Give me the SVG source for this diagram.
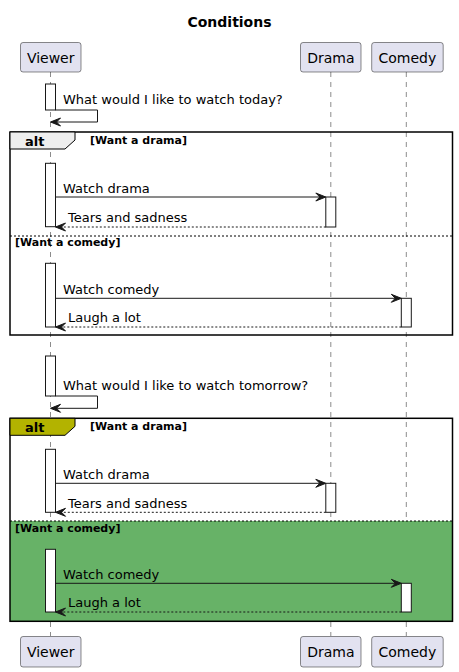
<svg xmlns="http://www.w3.org/2000/svg" width="459" height="672" viewBox="0 0 459 672">
<style>
text{font-family:"DejaVu Sans","Liberation Sans",sans-serif;fill:#000}
.title{font-size:14px;font-weight:bold}
.part{font-size:14px}
.msg{font-size:13px}
.grp{font-size:11px;font-weight:bold}
.alt{font-size:13px;font-weight:bold}
.pbox{fill:#E2E2F0;stroke:#181818;stroke-width:0.5}
.life{stroke:#181818;stroke-width:0.5;stroke-dasharray:5,5;fill:none}
.act{fill:#FFFFFF;stroke:#181818;stroke-width:1}
.solid{stroke:#181818;stroke-width:1;fill:none}
.dash{stroke:#181818;stroke-width:1;stroke-dasharray:2,2;fill:none}
.head{fill:#181818;stroke:#181818;stroke-width:1}
.frame{fill:none;stroke:#000;stroke-width:1.5}
.sep{stroke:#000;stroke-width:1;stroke-dasharray:2,2;fill:none}
</style>
<text class="title" x="229.5" y="27" text-anchor="middle">Conditions</text>

<g id="lifelines">
<line class="life" x1="50.5" y1="72" x2="50.5" y2="636"/>
<line class="life" x1="330.8" y1="72" x2="330.8" y2="636"/>
<line class="life" x1="406.3" y1="72" x2="406.3" y2="636"/>
</g>

<g id="frame2-bg">
<rect x="10" y="521" width="442.5" height="100.3" fill="#67B267"/>
</g>

<g id="viewer">
<rect class="pbox" x="20.5" y="42.5" width="60.5" height="29.5" rx="2.5"/>
<text class="part" x="50.7" y="62.5" text-anchor="middle">Viewer</text>
<rect class="pbox" x="20.5" y="636.5" width="60.5" height="30.5" rx="2.5"/>
<text class="part" x="50.7" y="657" text-anchor="middle">Viewer</text>
</g>
<g id="drama">
<rect class="pbox" x="300.5" y="42.5" width="60.5" height="29.5" rx="2.5"/>
<text class="part" x="330.8" y="62.5" text-anchor="middle">Drama</text>
<rect class="pbox" x="300.5" y="636.5" width="60.5" height="30.5" rx="2.5"/>
<text class="part" x="330.8" y="657" text-anchor="middle">Drama</text>
</g>
<g id="comedy">
<rect class="pbox" x="371.7" y="42.5" width="71.5" height="29.5" rx="2.5"/>
<text class="part" x="407.4" y="62.5" text-anchor="middle">Comedy</text>
<rect class="pbox" x="371.7" y="636.5" width="71.5" height="30.5" rx="2.5"/>
<text class="part" x="407.4" y="657" text-anchor="middle">Comedy</text>
</g>

<g id="frame1">
<rect class="frame" x="10" y="132" width="442.5" height="203"/>
<polygon points="10,132 75,132 75,140 65,149 10,149" fill="#EEEEEE" stroke="#000" stroke-width="1"/>
<text class="alt" x="25" y="145.5">alt</text>
<text class="grp" x="90" y="144">[Want a drama]</text>
<line class="sep" x1="10" y1="236" x2="452.5" y2="236"/>
<text class="grp" x="15" y="246">[Want a comedy]</text>
</g>

<g id="frame2">
<rect class="frame" x="10" y="418.3" width="442.5" height="203"/>
<polygon points="10,418.3 75,418.3 75,426.3 65,435.3 10,435.3" fill="#B3B300" stroke="#000" stroke-width="1"/>
<text class="alt" x="25" y="431.8">alt</text>
<text class="grp" x="90" y="430.3">[Want a drama]</text>
<line class="sep" x1="10" y1="521" x2="452.5" y2="521"/>
<text class="grp" x="15" y="531.5">[Want a comedy]</text>
</g>

<g id="activations">
<rect class="act" x="45.5" y="84" width="10" height="26"/>
<rect class="act" x="45.5" y="163.3" width="10" height="63.4"/>
<rect class="act" x="325.8" y="197" width="10" height="30"/>
<rect class="act" x="45.5" y="263.3" width="10" height="63.7"/>
<rect class="act" x="401.3" y="298.3" width="10" height="28.7"/>
<rect class="act" x="45.5" y="356" width="10" height="40"/>
<rect class="act" x="45.5" y="449.3" width="10" height="63"/>
<rect class="act" x="325.8" y="483.3" width="10" height="29"/>
<rect class="act" x="45.5" y="549.3" width="10" height="62.7"/>
<rect class="act" x="401.3" y="583.3" width="10" height="28.7"/>
</g>

<g id="connectors">
<polyline class="solid" points="55.5,110 97.5,110 97.5,122 51.5,122"/>
<polygon class="head" points="50.5,122 60.5,118 56.5,122 60.5,126"/>
<text class="msg" x="63" y="104">What would I like to watch today?</text>

<line class="solid" x1="55.5" y1="197" x2="324.8" y2="197"/>
<polygon class="head" points="325.8,197 315.8,193 319.8,197 315.8,201"/>
<text class="msg" x="63" y="192.5">Watch drama</text>

<line class="dash" x1="325.8" y1="227" x2="56.5" y2="227"/>
<polygon class="head" points="55.5,227 65.5,223 61.5,227 65.5,231"/>
<text class="msg" x="68" y="221.5">Tears and sadness</text>

<line class="solid" x1="55.5" y1="298.3" x2="400.3" y2="298.3"/>
<polygon class="head" points="401.3,298.3 391.3,294.3 395.3,298.3 391.3,302.3"/>
<text class="msg" x="63" y="293.5">Watch comedy</text>

<line class="dash" x1="401.3" y1="327" x2="56.5" y2="327"/>
<polygon class="head" points="55.5,327 65.5,323 61.5,327 65.5,331"/>
<text class="msg" x="68" y="322">Laugh a lot</text>

<polyline class="solid" points="55.5,396 97.5,396 97.5,408.3 51.5,408.3"/>
<polygon class="head" points="50.5,408.3 60.5,404.3 56.5,408.3 60.5,412.3"/>
<text class="msg" x="63" y="390">What would I like to watch tomorrow?</text>

<line class="solid" x1="55.5" y1="483.3" x2="324.8" y2="483.3"/>
<polygon class="head" points="325.8,483.3 315.8,479.3 319.8,483.3 315.8,487.3"/>
<text class="msg" x="63" y="479">Watch drama</text>

<line class="dash" x1="325.8" y1="512.3" x2="56.5" y2="512.3"/>
<polygon class="head" points="55.5,512.3 65.5,508.3 61.5,512.3 65.5,516.3"/>
<text class="msg" x="68" y="507.5">Tears and sadness</text>

<line class="solid" x1="55.5" y1="583.3" x2="400.3" y2="583.3"/>
<polygon class="head" points="401.3,583.3 391.3,579.3 395.3,583.3 391.3,587.3"/>
<text class="msg" x="63" y="578.5">Watch comedy</text>

<line class="dash" x1="401.3" y1="612" x2="56.5" y2="612"/>
<polygon class="head" points="55.5,612 65.5,608 61.5,612 65.5,616"/>
<text class="msg" x="68" y="607">Laugh a lot</text>
</g>
</svg>
